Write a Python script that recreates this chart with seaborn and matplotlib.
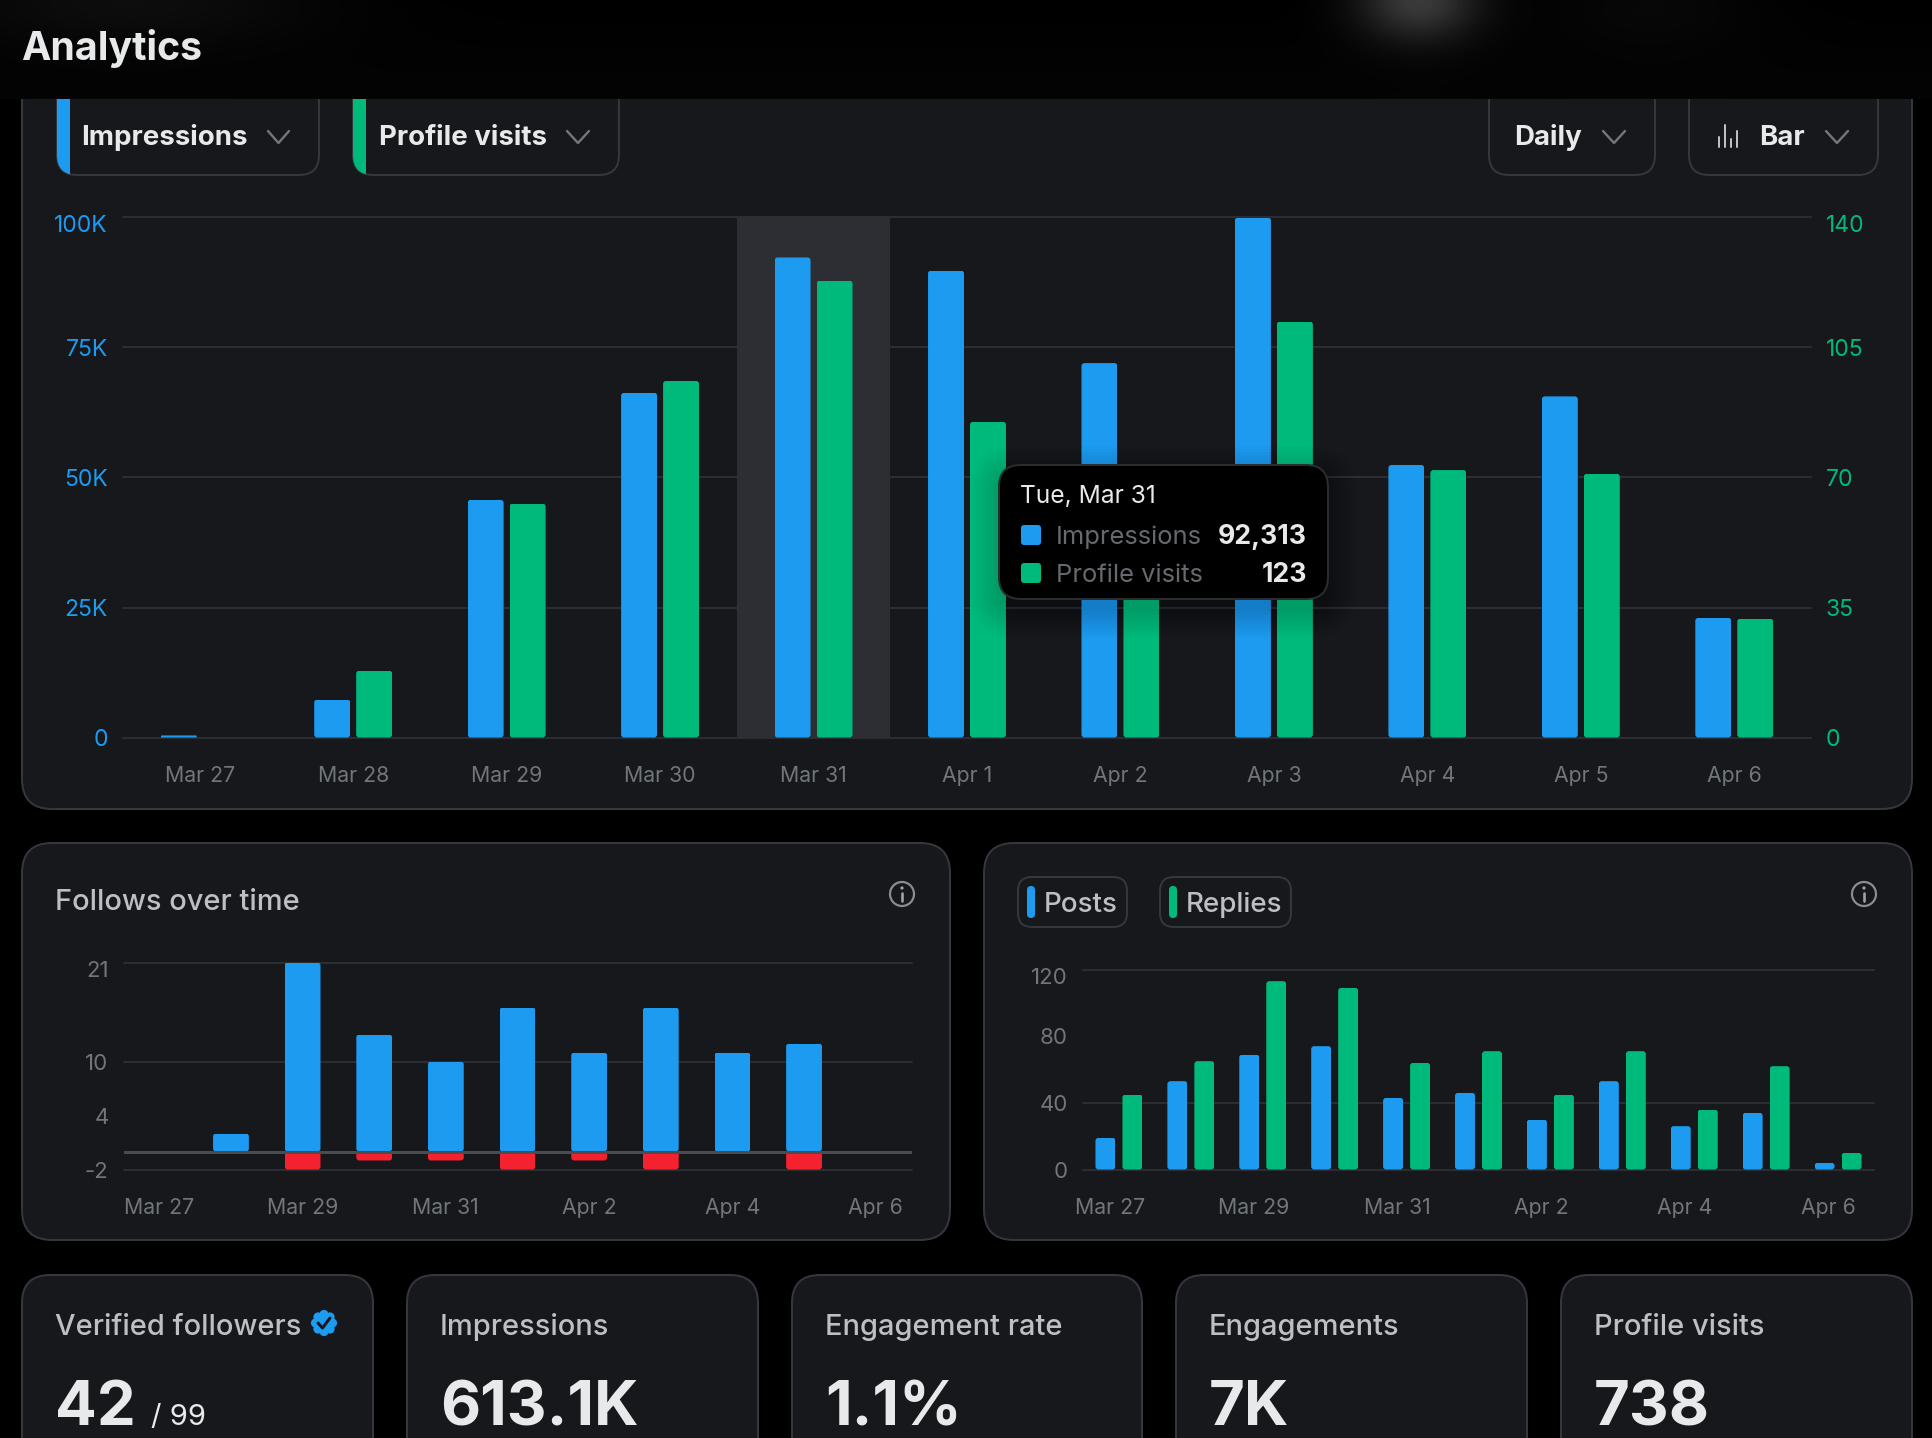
import numpy as np
import pandas as pd
import matplotlib
matplotlib.use("Agg")
import matplotlib.pyplot as plt
from matplotlib.patches import FancyBboxPatch, Rectangle, Circle
from matplotlib.lines import Line2D
from matplotlib.transforms import IdentityTransform, ScaledTranslation
import seaborn as sns

# ---- dashboard data ----
days = ["Mar 27", "Mar 28", "Mar 29", "Mar 30", "Mar 31", "Apr 1",
        "Apr 2", "Apr 3", "Apr 4", "Apr 5", "Apr 6"]
impressions = [400, 7300, 45700, 66300, 92313, 89800, 72000, 100000, 52400, 65600, 23000]
profile_visits = [0, 18, 63, 96, 123, 85, 66, 112, 72, 71, 32]
follows_gained = [0, 2, 21, 13, 10, 16, 11, 16, 11, 12, 0]
follows_lost = [0, 0, -2, -1, -1, -2, -1, -2, 0, -2, 0]
posts = [19, 53, 69, 74, 43, 46, 30, 53, 26, 34, 4]
replies = [45, 65, 113, 109, 64, 71, 45, 71, 36, 62, 10]

left_ticks = [0, 25000, 50000, 75000, 100000]
left_labels = ["0", "25K", "50K", "75K", "100K"]
right_ticks = [0, 35, 70, 105, 140]
follows_ticks = [-2, 4, 10, 21]
follows_grid = [-2, 10, 21]
posts_ticks = [0, 40, 80, 120]
posts_grid = [0, 40, 120]

tooltip_day = "Mar 31"
tooltip_weekday = "Tue"

stat_titles = ["Verified followers", "Impressions", "Engagement rate", "Engagements", "Profile visits"]
stat_values = ["42", "613.1K", "1.1%", "7K", "738"]
verified_total = "/ 99"

# ---- palette ----
BLUE = "#1D9BF0"
GREEN = "#00BA7C"
RED = "#F4212E"
CARD = "#16181C"
EDGE = "#34373C"
GRID = "#2B2D32"
MUTED = "#71767B"
SOFT = "#BCBFC3"
BRIGHT = "#E7E9EA"

W, H = 1932, 1438
DPI = 100

sns.set_theme(style="dark", rc={"figure.facecolor": "black", "axes.facecolor": "none",
                                "savefig.facecolor": "black"})
plt.rcParams["font.family"] = ["Inter", "DejaVu Sans"]

fig = plt.figure(figsize=(W / DPI, H / DPI), dpi=DPI, facecolor="black")


def pixel_axes(zorder):
    a = fig.add_axes([0, 0, 1, 1], zorder=zorder)
    a.set_axis_off()
    return a


def set_pixel_limits(a):
    a.set_xlim(0, W)
    a.set_ylim(H, 0)


back = pixel_axes(0)
set_pixel_limits(back)
front = pixel_axes(5)


def px(v):
    return v * 72 / DPI


def rounded(a, x0, y0, x1, y1, r, fc, ec="none", lw=1.5, **kw):
    p = FancyBboxPatch((x0, y0), x1 - x0, y1 - y0, boxstyle=f"round,pad=0,rounding_size={r}",
                       fc=fc, ec=ec, lw=px(lw), **kw)
    a.add_patch(p)
    return p


def label(a, x, y, s, size, color, weight="normal", ha="left"):
    a.text(x, y, s, fontsize=size, color=color, fontweight=weight, ha=ha, va="baseline")


def chevron(a, x0, x1, y0, y1):
    a.add_line(Line2D([x0, (x0 + x1) / 2, x1], [y0, y1, y0], color=MUTED, lw=px(2.4)))


def info_icon(a, x, y):
    a.add_patch(Circle((x, y), 12, fc="none", ec="#8A8E93", lw=px(2.2)))
    a.add_line(Line2D([x, x], [y - 1, y + 7], color="#A0A4A8", lw=px(2.6)))
    a.add_patch(Circle((x, y - 6), 1.6, fc="#A0A4A8", ec="none"))


# ---- cards ----
rounded(back, 22, 50, 1912, 809, 30, CARD, EDGE, 2)
rounded(back, 22, 843, 950, 1240, 30, CARD, EDGE, 2)
rounded(back, 984, 843, 1912, 1240, 30, CARD, EDGE, 2)
stat_edges = [(22, 373), (407, 758), (792, 1142), (1176, 1527), (1561, 1912)]
for x0, x1 in stat_edges:
    rounded(back, x0, 1275, x1, 1500, 28, CARD, EDGE, 2)

# ---- selector pills of the main chart ----
for x0, x1, strip in [(57, 319, BLUE), (353, 619, GREEN), (1489, 1655, None), (1689, 1878, None)]:
    rounded(back, x0, 70, x1, 175, 20, CARD, EDGE, 2)
    if strip:
        s = rounded(back, x0, 70, x1, 175, 20, strip)
        s.set_clip_path(Rectangle((x0, 60), 12.5, 120, transform=back.transData))
label(back, 81, 145, "Impressions", 19.9, BRIGHT, "bold")
label(back, 379, 145, "Profile visits", 19.9, BRIGHT, "bold")
label(back, 1514, 145, "Daily", 19.9, BRIGHT, "bold")
label(back, 1759, 145, "Bar", 19.9, BRIGHT, "bold")
chevron(back, 268, 289, 131, 143)
chevron(back, 567, 589, 131, 143)
chevron(back, 1603, 1625, 131, 143)
chevron(back, 1826, 1848, 131, 143)
for x, top in zip([1719, 1725, 1731, 1737], [137, 125, 139, 131]):
    back.add_line(Line2D([x, x], [top, 147], color=SOFT, lw=px(2)))

# ---- legend pills and headings of the lower charts ----
label(back, 55, 910, "Follows over time", 20.9, SOFT, "medium")
info_icon(back, 902, 894)
info_icon(back, 1864, 894)
for x0, x1, col, name in [(1018, 1127, BLUE, "Posts"), (1160, 1291, GREEN, "Replies")]:
    rounded(back, x0, 877, x1, 927, 14, CARD, EDGE, 2)
    rounded(back, x0 + 9, 886, x0 + 17, 918, 4, col)
    label(back, x0 + 26, 912, name, 20, SOFT, "medium")

# ---- stat tiles ----
for (x0, _), title, value in zip(stat_edges, stat_titles, stat_values):
    label(back, x0 + 33, 1335, title, 20.9, SOFT, "medium")
    label(back, x0 + 33, 1425, value, 44.5, BRIGHT, "bold")
label(back, 151, 1425, verified_total, 21, BRIGHT)
for ang in np.arange(0, 360, 45):
    back.add_patch(Circle((324 + 8.5 * np.cos(np.radians(ang)), 1323 + 8.5 * np.sin(np.radians(ang))),
                          4.6, fc=BLUE, ec="none"))
back.add_patch(Circle((324, 1323), 9, fc=BLUE, ec="none"))
back.add_line(Line2D([318, 322.5, 330], [1323, 1328, 1318], color=CARD, lw=px(3)))


def chart_axes(left, right, top, bottom):
    a = fig.add_axes([left / W, 1 - bottom / H, (right - left) / W, (bottom - top) / H], zorder=1)
    a.patch.set_visible(False)
    return a


def finish_axes(a, ylim):
    a.set_xlim(-0.5, len(days) - 0.5)
    a.set_ylim(*ylim)
    a.set_xlabel("")
    a.set_ylabel("")
    sns.despine(ax=a, left=True, right=True, top=True, bottom=True)


def round_bars(a, radius):
    # Clip each seaborn bar to a rounded rectangle of the same size, in screen space.
    for container in a.containers:
        for bar in container:
            if not bar.get_height():
                continue
            (x0, y0), (x1, y1) = a.transData.transform(
                [(bar.get_x(), bar.get_y()), (bar.get_x() + bar.get_width(), bar.get_y() + bar.get_height())])
            x0, x1 = sorted((x0, x1))
            y0, y1 = sorted((y0, y1))
            r = min(radius, (y1 - y0) / 2, (x1 - x0) / 2)
            clip = FancyBboxPatch((x0, y0), x1 - x0, y1 - y0,
                                  boxstyle=f"round,pad=0,rounding_size={r}",
                                  transform=IdentityTransform())
            bar.set_clip_path(clip)


def grid_lines(a, values):
    for v in values:
        a.axhline(v, color=GRID, lw=px(2), zorder=0.5, clip_on=False)


def drop_top_label(a, down=5.5):
    # The topmost tick label sits just under its gridline rather than centred on it.
    lab = a.get_yticklabels()[-1]
    lab.set_transform(lab.get_transform() + ScaledTranslation(0, -down / DPI, fig.dpi_scale_trans))


def long_table(series, name):
    return pd.DataFrame({"day": days, "value": series, "series": name})


bar_style = dict(saturation=1, legend=False, errorbar=None, linewidth=0)

# ---- main chart: impressions (left scale) against profile visits (right scale) ----
hue_levels = ["Impressions", "Profile visits"]
palette = dict(zip(hue_levels, [BLUE, GREEN]))
ax = chart_axes(123, 1811, 217.5, 737.5)
ax2 = ax.twinx()
ax2.set_zorder(1)
ax2.patch.set_visible(False)
sns.barplot(data=long_table(impressions, hue_levels[0]), x="day", y="value", hue="series",
            hue_order=hue_levels, palette=palette, order=days, width=0.547, gap=0.143,
            dodge=True, ax=ax, **bar_style)
sns.barplot(data=long_table(profile_visits, hue_levels[1]), x="day", y="value", hue="series",
            hue_order=hue_levels, palette=palette, order=days, width=0.547, gap=0.143,
            dodge=True, ax=ax2, **bar_style)
finish_axes(ax, (0, 100000))
finish_axes(ax2, (0, 140))
round_bars(ax, 3)
round_bars(ax2, 3)
grid_lines(ax, left_ticks)
focus = days.index(tooltip_day)
ax.axvspan(focus - 0.5, focus + 0.5, color="#2C2E33", lw=0, zorder=0.8)
ax.set_xticks(range(len(days)), days)
ax.set_yticks(left_ticks, left_labels)
ax2.set_yticks(right_ticks, [str(v) for v in right_ticks])
ax.tick_params(axis="x", length=0, pad=px(28.5), labelsize=15.3, labelcolor=MUTED)
ax.tick_params(axis="y", length=0, pad=px(15), labelsize=16.5, labelcolor=BLUE)
ax2.tick_params(axis="y", length=0, pad=px(15), labelsize=16.5, labelcolor=GREEN)
drop_top_label(ax)
drop_top_label(ax2)

# ---- follows over time ----
ax3 = chart_axes(123.5, 911.5, 962.5, 1169.5)
sns.barplot(x=days, y=follows_gained, color=BLUE, width=0.5, ax=ax3, saturation=1, errorbar=None, linewidth=0)
sns.barplot(x=days, y=follows_lost, color=RED, width=0.5, ax=ax3, saturation=1, errorbar=None, linewidth=0)
finish_axes(ax3, (-2, 21))
round_bars(ax3, 3)
grid_lines(ax3, follows_grid)
ax3.axhline(0, color="#494C51", lw=px(3), zorder=3)
ax3.set_xticks(range(0, len(days), 2), days[::2])
ax3.set_yticks(follows_ticks, [str(v) for v in follows_ticks])
ax3.tick_params(axis="x", length=0, pad=px(28.5), labelsize=15.3, labelcolor=MUTED)
ax3.tick_params(axis="y", length=0, pad=px(15), labelsize=16, labelcolor=MUTED)
drop_top_label(ax3, 6.5)

# ---- posts and replies ----
ax4 = chart_axes(1083, 1874, 969.5, 1169.5)
engagement = pd.concat([long_table(posts, "Posts"), long_table(replies, "Replies")])
sns.barplot(data=engagement, x="day", y="value", hue="series", order=days,
            palette={"Posts": BLUE, "Replies": GREEN}, width=0.751, gap=0.26, ax=ax4, **bar_style)
finish_axes(ax4, (0, 120))
round_bars(ax4, 3)
grid_lines(ax4, posts_grid)
ax4.set_xticks(np.arange(0, len(days), 2) - 0.13, days[::2])
ax4.set_yticks(posts_ticks, [str(v) for v in posts_ticks])
ax4.tick_params(axis="x", length=0, pad=px(28.5), labelsize=15.3, labelcolor=MUTED)
ax4.tick_params(axis="y", length=0, pad=px(15), labelsize=16, labelcolor=MUTED)
drop_top_label(ax4, 6.5)

# ---- page header, which covers the top of the main card ----
yy, xx = np.mgrid[0:99, 0:W]
glow = (58 * np.exp(-((xx - 1418) / 60.0) ** 2 - (yy / 40.0) ** 2)
        + 13 * np.exp(-((xx - 130) / 190.0) ** 2 - (yy / 45.0) ** 2)
        + 7 * np.exp(-((xx - 1650) / 110.0) ** 2 - (yy / 50.0) ** 2)
        + 4 * (yy / 99.0))
front.imshow(glow, cmap="gray", vmin=0, vmax=255, extent=(0, W, 99, 0), aspect="auto",
             interpolation="bilinear", zorder=1)
label(front, 21, 60, "Analytics", 28.3, BRIGHT, "bold")

# ---- tooltip ----
for grow in range(2, 30, 3):
    rounded(front, 999 - grow, 465 - grow + 10, 1328 + grow, 599 + grow + 10, 18 + grow, "black",
            alpha=0.015, zorder=2)
rounded(front, 999, 465, 1328, 599, 22, "black", "#2A2C30", 2, zorder=3)
front.text(1020, 503, f"{tooltip_weekday}, {tooltip_day}", fontsize=17.7, color=BRIGHT, zorder=4)
tip_rows = [("Impressions", impressions[focus], BLUE, 544, 525),
            ("Profile visits", profile_visits[focus], GREEN, 582, 563)]
for name, value, col, base, box in tip_rows:
    rounded(front, 1021, box, 1041, box + 20, 3, col, zorder=4)
    front.text(1056, base, name, fontsize=18.4, color="#666A6F", zorder=4)
    front.text(1307, base, f"{value:,}", fontsize=19.2, color=BRIGHT, fontweight="bold", ha="right", zorder=4)
set_pixel_limits(front)

fig.savefig("out.png", dpi=DPI, facecolor="black")
